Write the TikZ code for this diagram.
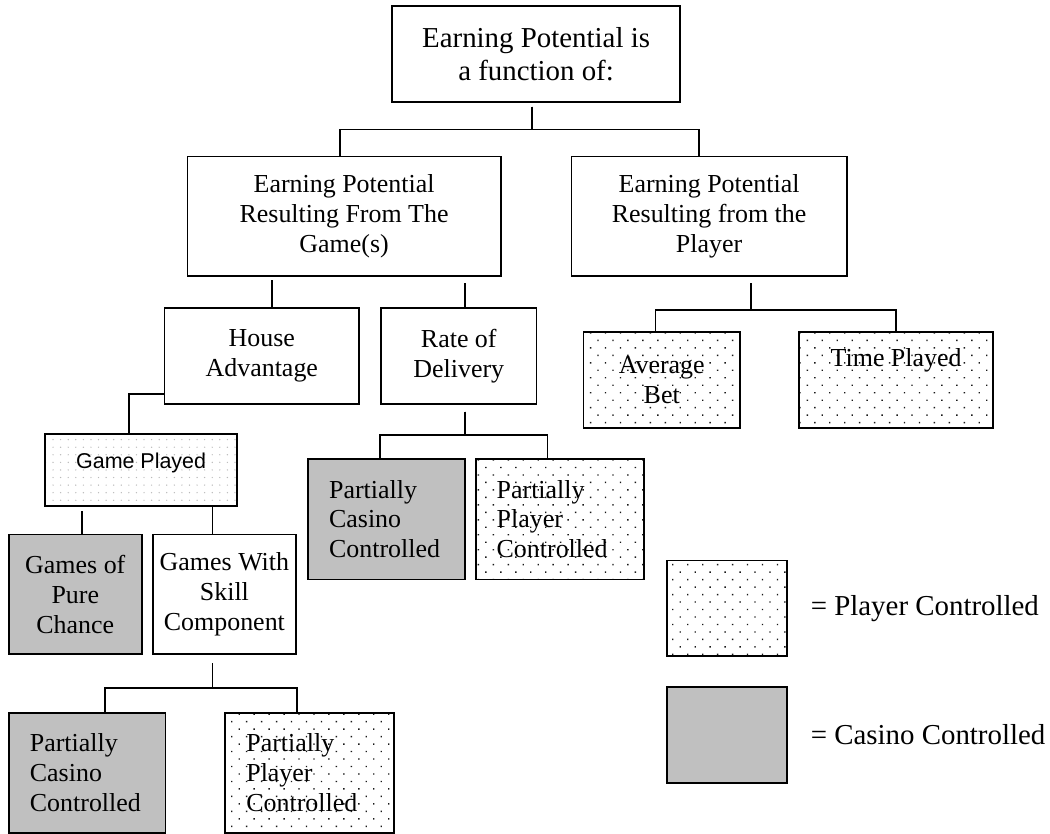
\documentclass[tikz,border=0pt]{standalone}
\usepackage{fontspec}
\setmainfont{Liberation Serif}
\newfontfamily\arialfont{Liberation Sans}
\usetikzlibrary{patterns.meta}
\definecolor{casinogray}{RGB}{192,192,192}

\begin{document}
\begin{tikzpicture}[
    font=\fontsize{18.5}{21.3}\selectfont,
    box/.style={draw, line width=1.3pt, align=center, inner sep=0pt},
    playerbox/.style={box, pattern={Dots[distance=0.265cm, angle=45, radius=0.7pt]}, pattern color=black!90},
    lightbox/.style={box, pattern={Dots[distance=0.19cm, radius=0.5pt]}, pattern color=gray!55},
    casinobox/.style={box, fill=casinogray},
    link/.style={line width=1.2pt}
]
    % page
    \fill[white] (0,0) rectangle (26.25,-20.9);

    % Nodes for the top of the tree
    \node[box, minimum width=7.225cm, minimum height=2.4cm, font=\fontsize{20.6}{23.4}\selectfont] (potential) at (13.4375,-1.35) {Earning Potential is\\a function of:};
    \node[box, minimum width=7.85cm, minimum height=3cm] (fromgame) at (8.625,-5.425) {Earning Potential\\Resulting From The\\Game(s)};
    \node[box, minimum width=6.9cm, minimum height=3cm] (fromplayer) at (17.775,-5.425) {Earning Potential\\Resulting from the\\Player};

    % Nodes for the game side
    \node[box, minimum width=4.875cm, minimum height=2.4cm] (house) at (6.5625,-8.925) {House\\Advantage};
    \node[box, minimum width=3.9cm, minimum height=2.4cm] (rate) at (11.5,-8.925) {Rate of\\Delivery};
    \node[lightbox, minimum width=4.825cm, text height=0.875cm, text depth=0.925cm, font=\arialfont\fontsize{15.3}{18}\selectfont] (gameplayed) at (3.5375,-11.775) {Game Played};
    \node[casinobox, minimum width=3.325cm, minimum height=3cm] (purechance) at (1.8875,-14.9) {Games of\\Pure\\Chance};
    \node[box, minimum width=3.6cm, minimum height=3cm] (skill) at (5.625,-14.9) {Games With\\Skill\\Component};
    \node[casinobox, minimum width=3.925cm, minimum height=3cm, align=left, text width=2.875cm] (gamecasino) at (2.1875,-19.375) {Partially\\Casino\\Controlled};
    \node[playerbox, minimum width=4.225cm, minimum height=3cm, align=left, text width=3.175cm] (gameplayer) at (7.7625,-19.375) {Partially\\Player\\Controlled};
    \node[casinobox, minimum width=3.925cm, minimum height=3.025cm, align=left, text width=2.875cm] (ratecasino) at (9.6875,-13.0125) {Partially\\Casino\\Controlled};
    \node[playerbox, minimum width=4.225cm, minimum height=3.025cm, align=left, text width=3.175cm] (rateplayer) at (14.0375,-13.0125) {Partially\\Player\\Controlled};

    % Nodes for the player side
    \node[playerbox, minimum width=3.925cm, minimum height=2.4cm] (avgbet) at (16.5875,-9.525) {Average\\Bet};
    \node[playerbox, minimum width=4.875cm, text height=0.86cm, text depth=1.54cm] (timeplayed) at (22.4625,-9.525) {Time Played};

    % Key
    \node[playerbox, minimum width=3cm, minimum height=2.4cm] (keyplayer) at (18.225,-15.25) {};
    \node[casinobox, minimum width=3cm, minimum height=2.4cm] (keycasino) at (18.225,-18.425) {};
    \node[anchor=west, font=\fontsize{20.6}{24}\selectfont] (keyplayertext) at (20.2,-15.25) {= Player Controlled};
    \node[anchor=west, font=\fontsize{20.6}{24}\selectfont] (keycasinotext) at (20.2,-18.425) {= Casino Controlled};

    % Connectors
    \draw[link, shorten <=0.1cm] ([xshift=-0.1cm]potential.south) -- ++(0,-0.675) -| ([xshift=-0.1cm]fromgame.north);
    \draw[link, shorten <=0.1cm] ([xshift=-0.1cm]potential.south) -- ++(0,-0.675) -| ([xshift=-0.25cm]fromplayer.north);
    \draw[link] ([xshift=0.26cm]house.north) -- ([xshift=0.26cm, yshift=-0.08cm]house.north |- fromgame.south);
    \draw[link] ([xshift=0.15cm]rate.north) -- ([xshift=0.15cm, yshift=-0.15cm]rate.north |- fromgame.south);
    \draw[link, shorten <=0.15cm] ([xshift=1.05cm]fromplayer.south) -- ++(0,-0.825) -| ([xshift=-0.16cm]avgbet.north);
    \draw[link, shorten <=0.15cm] ([xshift=1.05cm]fromplayer.south) -- ++(0,-0.825) -| (timeplayed.north);
    \draw[link] ([yshift=-0.95cm]house.west) -| ([xshift=-0.31cm]gameplayed.north);
    \draw[link] ([xshift=0.16cm]purechance.north) -- ([xshift=0.16cm, yshift=-0.12cm]purechance.north |- gameplayed.south);
    \draw[link] ([xshift=-0.3cm]skill.north |- gameplayed.south) -- ([xshift=-0.3cm]skill.north);
    \draw[link, shorten <=0.2cm] ([xshift=-0.3cm]skill.south) -- ++(0,-0.825) -| ([xshift=0.44cm]gamecasino.north);
    \draw[link, shorten <=0.2cm] ([xshift=-0.3cm]skill.south) -- ++(0,-0.825) -| ([xshift=-0.31cm]gameplayer.north);
    \draw[link, shorten <=0.17cm] ([xshift=0.15cm]rate.south) -- ++(0,-0.75) -| ([xshift=-0.16cm]ratecasino.north);
    \draw[link, shorten <=0.17cm] ([xshift=0.15cm]rate.south) -- ++(0,-0.75) -| ([xshift=-0.31cm]rateplayer.north);
\end{tikzpicture}
\end{document}
